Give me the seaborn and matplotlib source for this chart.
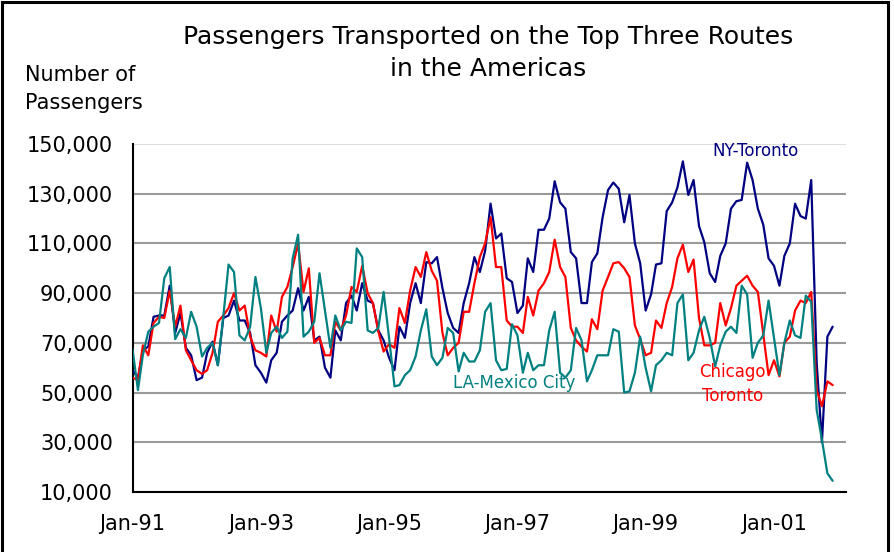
import numpy as np
import pandas as pd
import matplotlib
matplotlib.use("Agg")
import matplotlib.pyplot as plt
import matplotlib.dates as mdates
from matplotlib.ticker import FixedLocator, FuncFormatter
from matplotlib.patches import Rectangle
import seaborn as sns

# Monthly passengers (thousands), Jan-1991 .. Dec-2001
months = pd.date_range("1991-01-01", periods=132, freq="MS")

ny_toronto = [
    59, 56, 67, 68.5, 80.5, 81, 81, 93, 74, 82,
    68, 65, 55, 56, 66, 70.5, 61, 80, 81, 87,
    79, 79, 74, 61, 58, 54, 63, 66, 78.5, 81,
    83, 92, 83, 88.5, 71, 72.5, 60, 56, 75, 71,
    86, 89, 83, 94, 87, 86, 75, 71, 64, 59,
    76.5, 72, 86, 94, 86, 102.5, 102, 104.5, 92, 82,
    76, 74, 86, 94, 104.5, 98.5, 107, 126, 112, 114,
    96, 94.5, 82, 85, 104, 98.5, 115.5, 115.5, 120, 135,
    126.5, 124, 106.5, 104, 86, 86, 102.5, 106, 120.5, 131.5,
    134.5, 132, 118.5, 129.5, 110, 102, 83, 89.5, 101.5, 102,
    123, 126.5, 132.5, 143, 129.5, 135.5, 117, 110.5, 98, 94.5,
    105, 110, 124, 127, 127.5, 142.5, 135.5, 124, 117.5, 104,
    101, 93, 105, 110, 126, 121, 120, 135.5, 62, 30,
    72.5, 76.5,
]

chicago_toronto = [
    56, 55, 69, 65, 78, 80.5, 80, 91, 76.5, 85,
    67, 63, 59, 57.5, 59, 66, 78.5, 81, 84, 90,
    83, 85, 72.5, 67, 66, 64.5, 81, 74.5, 88.5, 92.5,
    100.5, 110, 90.5, 100, 70, 72, 65, 65, 78.5, 75,
    81, 92.5, 90.5, 101, 90, 86, 74.5, 66.5, 69.5, 68,
    84, 78, 91, 100.5, 96.5, 106.5, 99, 95, 74, 65,
    68, 70, 82.5, 82.5, 94, 104.5, 110, 120.5, 100.5, 100.5,
    79, 76.5, 76.5, 74, 88.5, 81, 91, 94, 98.5, 111.5,
    100.5, 96.5, 76, 71, 68.5, 66.5, 79.5, 75.5, 91, 96.5,
    102, 102.5, 100, 96.5, 77, 71.5, 65, 66, 79, 76,
    86, 92.5, 104, 109.5, 98.5, 103.5, 80, 69, 69, 70,
    86, 77, 84, 93, 95, 97, 93, 90.5, 73.5, 57,
    63, 56.5, 70, 72.5, 83, 87, 86, 90.5, 51, 44.5,
    54.5, 53,
]

la_mexico_city = [
    67.5, 51, 65, 74.5, 76.5, 78, 96, 100.5, 71.5, 75.5,
    72, 82.5, 76.5, 64.5, 68, 70, 61, 80.5, 101.5, 98.5,
    73, 71, 76.5, 96.5, 84, 66, 74, 76.5, 72, 74.5,
    104, 113.5, 72.5, 74.5, 78.5, 98, 83, 68, 81, 75,
    78.5, 78, 108, 104.5, 75, 74, 76, 90.5, 72, 52.5,
    53, 57, 59, 64.5, 75, 83.5, 64.5, 61, 64, 76,
    74, 58.5, 66, 62.5, 62.5, 67, 82.5, 86, 63, 59,
    59.5, 77.5, 73, 58, 66, 59, 61, 61, 75, 82.5,
    58, 56, 59, 76, 71, 54.5, 59, 65, 65, 65,
    75.5, 74.5, 50, 50.5, 58, 72.5, 60, 50.5, 61, 63,
    66, 65, 86, 89.5, 63, 66, 75, 80.5, 72, 60.5,
    69, 74.5, 76.5, 74, 93, 89.5, 64, 70, 73, 87,
    72, 57, 70, 79, 73, 72, 89, 86.5, 43, 31,
    17.5, 14.5,
]

routes = ["NY-Toronto", "Chicago-Toronto", "LA-Mexico City"]
route_colors = {"NY-Toronto": "#000080",
                "Chicago-Toronto": "#FF0000",
                "LA-Mexico City": "#008080"}
y_ticks = [10000, 30000, 50000, 70000, 90000, 110000, 130000, 150000]
label_years = [1991, 1993, 1995, 1997, 1999, 2001]
all_years = list(range(1991, 2003))

df = pd.DataFrame({
    "month": np.tile(months, 3),
    "route": np.repeat(routes, len(months)),
    "passengers": np.concatenate([ny_toronto, chicago_toronto,
                                  la_mexico_city]) * 1000,
})

sns.set_style("white")
plt.rcParams["font.family"] = ["DejaVu Sans"]
plt.rcParams["text.color"] = "black"

W, H = 894, 552
fig = plt.figure(figsize=(W / 100, H / 100), dpi=100)
ax = fig.add_axes([132.5 / W, 1 - 492 / H, (846 - 132.5) / W, (492 - 144) / H])

sns.lineplot(data=df, x="month", y="passengers", hue="route",
             hue_order=routes, palette=route_colors, linewidth=1.6,
             legend=False, ax=ax, zorder=3)

ax.set_xlim(pd.Timestamp("1991-01-01"), pd.Timestamp("2002-02-15"))
ax.set_ylim(10000, 150000)
ax.set_xlabel("")
ax.set_ylabel("")

# horizontal grid
ax.yaxis.set_major_locator(FixedLocator(y_ticks))
ax.yaxis.set_major_formatter(FuncFormatter(lambda v, p: f"{int(v):,}"))
ax.grid(axis="y", color="#9a9a9a", linewidth=1.5, zorder=0)
ax.grid(axis="x", visible=False)
ax.set_axisbelow(True)
gl = ax.yaxis.get_gridlines()
gl[-1].set_color("#dddddd")

# date axis: ticks every year, labels every two years
ax.xaxis.set_major_locator(FixedLocator(
    mdates.date2num([pd.Timestamp(f"{y}-01-01") for y in label_years])))
ax.xaxis.set_minor_locator(FixedLocator(
    mdates.date2num([pd.Timestamp(f"{y}-01-01") for y in all_years])))
ax.xaxis.set_major_formatter(mdates.DateFormatter("%b-%y"))

for side in ("top", "right"):
    ax.spines[side].set_visible(False)
for side in ("left", "bottom"):
    ax.spines[side].set_color("black")
    ax.spines[side].set_linewidth(1.5)

ax.tick_params(axis="x", which="major", direction="inout", length=9,
               width=1.5, pad=11, labelsize=15, colors="black")
ax.tick_params(axis="x", which="minor", direction="in", length=4,
               width=1.5, colors="black")
ax.tick_params(axis="y", which="major", direction="out", length=5,
               width=1.5, pad=9, labelsize=15, colors="black")

# series labels
ax.text(pd.Timestamp("2000-09-19"), 147200, "NY-Toronto", color="#000080",
        fontsize=12, ha="center", va="center")
ax.text(pd.Timestamp("1996-12-15"), 53800, "LA-Mexico City", color="#008080",
        fontsize=12, ha="center", va="center")
ax.text(pd.Timestamp("2000-05-10"), 53400, "Chicago\nToronto", color="#FF0000",
        fontsize=12, ha="center", va="center", linespacing=1.45)

# title and axis caption
fig.text(488 / W, 1 - 53 / H,
         "Passengers Transported on the Top Three Routes\nin the Americas",
         fontsize=18, ha="center", va="center", linespacing=1.38,
         color="black")
fig.text(25 / W, 1 - 89 / H, "Number of\nPassengers", fontsize=15,
         ha="left", va="center", linespacing=1.5, color="black")

# outer frame
fig.patches.append(Rectangle((2 / W, -0.05), (888 - 2) / W, 1.05 - 2 / H,
                             transform=fig.transFigure, fill=False,
                             edgecolor="black", linewidth=2.2))

fig.savefig("out.png", dpi=100)
